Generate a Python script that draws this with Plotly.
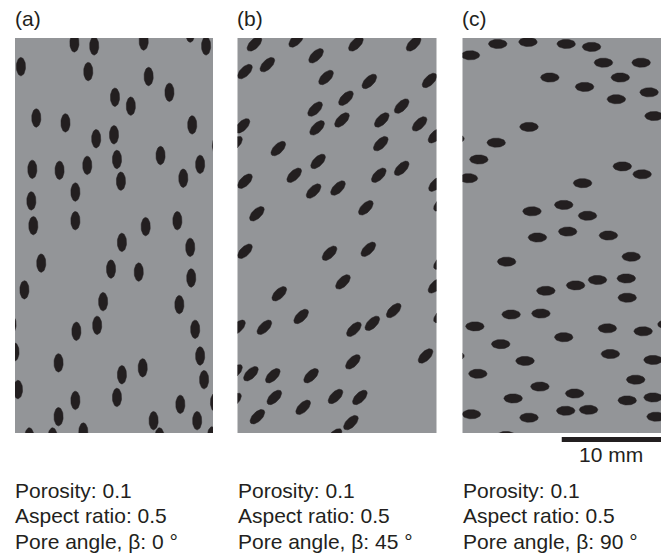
import numpy as np
import plotly.graph_objects as go

# ---------------- data (mm, sample 20 x 40 mm, y measured from bottom) ----------------
panel_labels = ["(a)", "(b)", "(c)"]
porosity = [0.1, 0.1, 0.1]
aspect_ratio = [0.5, 0.5, 0.5]
pore_angle_deg = [0, 45, 90]
semi_major_mm = 0.93
sample_width_mm = 20
sample_height_mm = 40
scale_bar_mm = 10

pore_x_a = [6.0, 8.0, 13.0, 17.7, 19.3, 0.6, 7.4, 13.5, 10.1, 15.6, 11.7, 2.15, 5.1, 17.9, 8.2, 10.0,
            20.4, 10.3, 14.7, 18.7, 1.75, 4.5, 7.3, 17.0, 10.7, 6.1, 1.65, 6.1, 1.85, 13.2, 16.4, 10.8,
            17.7, 2.65, 9.7, 12.5, 17.8, 0.95, 8.9, 16.6, -0.35, 8.3, 6.2, 18.2, -0.05, 18.7, 4.4, 12.9,
            10.8, 19.1, 0.3, 10.3, 6.1, 16.7, 20.2, 4.4, 14.0, 18.4, 6.9, 1.45, 3.8, 14.6, 19.9]
pore_y_a = [39.5, 39.2, 39.7, 40.5, 39.2, 37.1, 36.6, 36.1, 34.0, 34.5, 33.1, 31.9, 31.4, 31.2, 29.8, 30.2,
            29.1, 27.7, 28.1, 27.2, 26.7, 26.6, 27.1, 25.8, 25.5, 24.4, 23.5, 21.5, 21.0, 20.9, 21.5, 19.3,
            18.8, 17.2, 16.6, 16.3, 15.7, 14.5, 13.3, 13.0, 11.0, 10.9, 10.3, 10.5, 8.2, 7.8, 7.1, 6.6,
            5.9, 5.4, 4.4, 3.6, 3.3, 2.9, 3.1, 1.65, 1.25, 1.25, 0.1, -0.4, -0.4, -0.4, -0.3]

pore_x_b = [1.7, 5.9, 11.9, 17.7, 3.0, 0.75, 7.9, 8.9, 13.25, 19.3, 10.9, 16.5, 7.8, 10.5, 8.0, 14.5,
            18.3, 0.5, 19.9, -0.25, 4.1, 14.4, 8.1, 5.7, 14.2, 16.5, 0.75, 7.65, 10.1, 19.95, 12.9, 1.95,
            20.45, 0.75, 9.25, 13.15, 20.45, 10.6, 4.2, 19.9, 6.4, 15.7, 20.45, 0.05, 2.7, 11.7, 13.55,
            18.9, 11.6, -0.25, 1.35, 3.55, 7.4, -0.35, 3.7, 9.85, 12.3, 6.6, 2.0, 11.4, 9.75]
pore_y_b = [39.4, 39.8, 39.4, 39.4, 37.3, 36.6, 38.2, 36.0, 35.6, 35.7, 33.9, 33.1, 32.8, 31.7, 30.9, 31.7,
            31.3, 31.1, 30.1, 29.3, 28.8, 29.3, 27.5, 26.1, 26.1, 26.8, 25.5, 24.5, 24.8, 25.2, 22.8, 22.2,
            23.2, 18.4, 18.2, 18.6, 17.3, 15.3, 14.1, 14.9, 11.8, 12.4, 11.9, 10.7, 10.7, 10.5, 11.1,
            7.8, 7.2, 6.2, 6.0, 5.8, 5.8, 3.3, 3.6, 3.7, 3.6, 2.6, 1.65, 1.05, -0.3]

pore_x_c = [3.55, 6.6, 10.45, 13.0, 0.8, 14.2, 18.0, 8.8, 15.9, 12.3, 18.8, 15.5, 19.3, 6.7, -0.75, 3.4,
            1.65, 0.6, 16.1, 18.1, 12.1, 10.2, 7.0, 12.6, 10.6, 7.55, 14.7, 17.0, 4.45, 13.6, 16.5, 11.4,
            8.4, 16.6, 4.9, 7.9, 1.25, 14.6, 18.2, 20.6, 10.2, 3.85, -0.75, 14.9, 6.3, 19.2, 1.55, 17.45,
            7.8, 11.3, 5.1, 16.6, 19.2, 0.9, 10.4, 12.7, 6.7, 19.5, 4.4, 17.8]
pore_y_c = [39.4, 39.6, 39.4, 39.1, 38.25, 37.5, 37.5, 36.0, 36.0, 35.05, 34.5, 33.8, 32.1, 31.0, 29.8, 29.4,
            27.7, 25.8, 27.0, 26.2, 25.3, 23.1, 22.45, 22.0, 20.4, 19.8, 20.0, 17.85, 17.35, 15.5, 15.65, 14.95,
            14.4, 13.7, 12.0, 12.1, 10.8, 10.6, 10.3, 11.0, 9.7, 9.0, 7.8, 8.0, 7.3, 7.4, 6.0, 5.4,
            4.7, 4.0, 3.5, 3.3, 3.6, 1.9, 2.25, 2.35, 1.55, 1.65, -0.3, -0.5]

pore_x = [pore_x_a, pore_x_b, pore_x_c]
pore_y = [pore_y_a, pore_y_b, pore_y_c]

# ---------------- styling ----------------
BG = "#939598"
PORE = "#231f20"
FONT = "Liberation Sans, Arial, Helvetica, sans-serif"
FS = 21

x_domains = [[15 / 665, 213 / 665], [237.5 / 665, 436.5 / 665], [462.5 / 665, 661 / 665]]
y_domain = [1 - 433 / 555, 1 - 38 / 555]


def ellipse_path(xs, ys, a, b, beta_deg, n=48):
    t = np.linspace(0, 2 * np.pi, n)
    beta = np.deg2rad(beta_deg)
    ux, uy = np.sin(beta), np.cos(beta)      # major-axis direction (beta from vertical)
    vx, vy = np.cos(beta), -np.sin(beta)     # minor-axis direction
    px, py = [], []
    for cx, cy in zip(xs, ys):
        ex = cx + a * np.cos(t) * ux + b * np.sin(t) * vx
        ey = cy + a * np.cos(t) * uy + b * np.sin(t) * vy
        px += list(ex) + [None]
        py += list(ey) + [None]
    return px, py


fig = go.Figure()
annotations = []
for i in range(3):
    xa = "x" if i == 0 else f"x{i + 1}"
    ya = "y" if i == 0 else f"y{i + 1}"
    a = semi_major_mm
    b = semi_major_mm * aspect_ratio[i]
    px, py = ellipse_path(pore_x[i], pore_y[i], a, b, pore_angle_deg[i])
    fig.add_trace(go.Scatter(x=px, y=py, mode="lines", fill="toself", fillcolor=PORE,
                             line=dict(color=PORE, width=0.5), hoverinfo="skip",
                             showlegend=False, xaxis=xa, yaxis=ya))
    axkey = "xaxis" if i == 0 else f"xaxis{i + 1}"
    aykey = "yaxis" if i == 0 else f"yaxis{i + 1}"
    fig.update_layout(**{
        axkey: dict(domain=x_domains[i], range=[0, sample_width_mm], visible=False, anchor=ya,
                    fixedrange=True),
        aykey: dict(domain=y_domain, range=[0, sample_height_mm], visible=False, anchor=xa,
                    fixedrange=True),
    })
    annotations.append(dict(text=panel_labels[i], xref=f"{xa} domain", yref="paper", x=-0.012,
                            y=1 - 18.5 / 555, xanchor="left", yanchor="middle", showarrow=False,
                            font=dict(family=FONT, size=FS, color="#231f20")))
    lines = [f"Porosity: {porosity[i]}", f"Aspect ratio: {aspect_ratio[i]}",
             f"Pore angle, β: {pore_angle_deg[i]} °"]
    for j, (txt, ypx) in enumerate(zip(lines, [490, 515.5, 541])):
        annotations.append(dict(text=txt, xref=f"{xa} domain", yref="paper", x=-0.008,
                                y=1 - ypx / 555, xanchor="left", yanchor="middle", showarrow=False,
                                font=dict(family=FONT, size=FS, color="#231f20")))

# scale bar (10 mm) under panel (c)
fig.add_shape(type="rect", xref="x3", yref="paper",
              x0=sample_width_mm - scale_bar_mm, x1=sample_width_mm,
              y0=1 - 442 / 555, y1=1 - 437 / 555, fillcolor=PORE, line=dict(width=0))
annotations.append(dict(text=f"{scale_bar_mm} mm", xref="x3", yref="paper",
                        x=sample_width_mm - scale_bar_mm / 2, y=1 - 454.5 / 555,
                        xanchor="center", yanchor="middle", showarrow=False,
                        font=dict(family=FONT, size=FS, color="#231f20")))

fig.update_layout(width=665, height=555, margin=dict(l=0, r=0, t=0, b=0),
                  paper_bgcolor="white", plot_bgcolor=BG, annotations=annotations)

fig.write_html("out.html", config={"displayModeBar": False},
               post_script="document.body.style.margin='0px';")
